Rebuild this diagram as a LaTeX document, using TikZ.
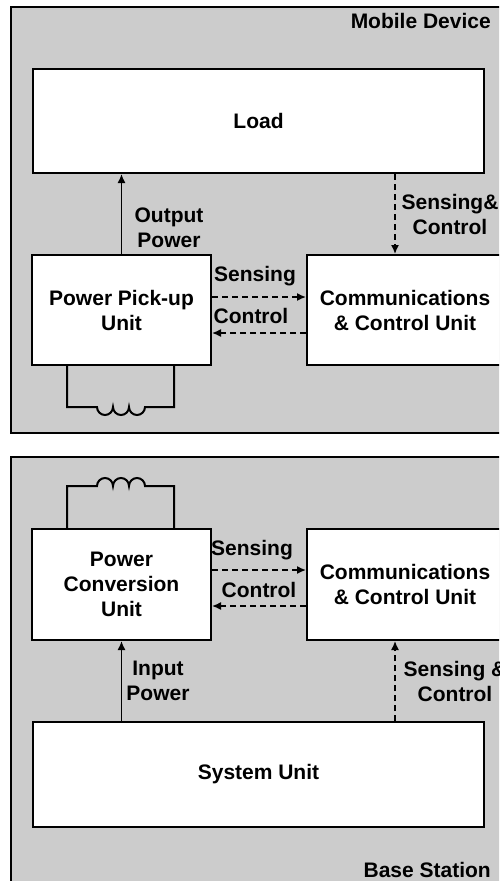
\documentclass[tikz,border=0pt]{standalone}
\usepackage{fontspec}
\setmainfont{Liberation Sans}
\usetikzlibrary{arrows.meta,positioning}

\tikzset{
    block/.style={draw, line width=2pt, fill=white, align=center, inner sep=2pt, font=\bfseries\fontsize{21}{25}\selectfont},
    panel/.style={draw, line width=2pt, fill=black!20},
    power/.style={line width=1.5pt, -{Latex[length=9pt,width=8pt]}},
    signal/.style={line width=1.5pt, dash pattern=on 6pt off 4pt, -{Latex[length=9pt,width=8pt]}},
    lbl/.style={align=center, inner sep=0pt, font=\bfseries\fontsize{21}{25}\selectfont},
    coil/.style={line width=2pt}
}

\begin{document}
\begin{tikzpicture}[x=1pt, y=-1pt]
    \useasboundingbox (0,0) rectangle (499,881);
    \clip (0,0) rectangle (499,881);

    % mobile device
    \draw[panel] (10.5,7) rectangle (506,433);
    \node[lbl, anchor=east] (mobile) at (491,21) {Mobile Device};

    \node[block, minimum width=451pt, minimum height=104pt, anchor=north west] (load) at (32,68) {Load};
    \node[block, minimum width=179pt, minimum height=110pt, anchor=north west] (pickup) at (31,254) {Power Pick-up\\Unit};
    \node[block, minimum width=196pt, minimum height=110pt, anchor=north west] (commtop) at (306,254) {Communications\\\& Control Unit};

    \coordinate (sigx) at (395,0);
    \draw[power] (pickup.north) -- (pickup.north |- load.south);
    \draw[signal] (load.south -| sigx) -- (commtop.north -| sigx);
    \draw[signal] ([yshift=13pt]pickup.east) -- ([yshift=13pt]pickup.east -| commtop.west);
    \draw[signal] ([yshift=-23pt]commtop.west) -- ([yshift=-23pt]commtop.west -| pickup.east);

    \node[lbl] (outpow) at (169,228) {Output\\Power};
    \node[lbl] (senstop) at (450,214) {Sensing\&\\Control};
    \node[lbl] (sens1) at (255,276) {Sensing};
    \node[lbl] (ctrl1) at (251,316) {Control};

    \draw[coil] (pickup.south -| 67,0) -- (67,407) -- (97,407)
        arc[start angle=180, end angle=0, radius=8]
        arc[start angle=180, end angle=0, radius=8]
        arc[start angle=180, end angle=0, radius=8]
        -- (174,407) -- (pickup.south -| 174,0);

    % base station
    \draw[panel] (10.5,457) rectangle (506,895);
    \node[lbl, anchor=east] (base) at (491,870) {Base Station};

    \node[block, minimum width=179pt, minimum height=111pt, anchor=north west] (pcu) at (31,528) {Power\\Conversion\\Unit};
    \node[block, minimum width=196pt, minimum height=111pt, anchor=north west] (commbot) at (306,528) {Communications\\\& Control Unit};
    \node[block, minimum width=451pt, minimum height=105pt, anchor=north west] (system) at (32,721) {System Unit};

    \draw[power] (system.north -| pcu.south) -- (pcu.south);
    \draw[signal] (system.north -| sigx) -- (commbot.south -| sigx);
    \draw[signal] ([yshift=14.5pt]pcu.east) -- ([yshift=14.5pt]pcu.east -| commbot.west);
    \draw[signal] ([yshift=-21.5pt]commbot.west) -- ([yshift=-21.5pt]commbot.west -| pcu.east);

    \node[lbl] (inpow) at (158,681) {Input\\Power};
    \node[lbl] (sensbot) at (455,681) {Sensing \&\\Control};
    \node[lbl] (sens2) at (252,550) {Sensing};
    \node[lbl] (ctrl2) at (259,590) {Control};

    \draw[coil] (pcu.north -| 67,0) -- (67,486) -- (97,486)
        arc[start angle=180, end angle=360, radius=8]
        arc[start angle=180, end angle=360, radius=8]
        arc[start angle=180, end angle=360, radius=8]
        -- (174,486) -- (pcu.north -| 174,0);
\end{tikzpicture}
\end{document}
